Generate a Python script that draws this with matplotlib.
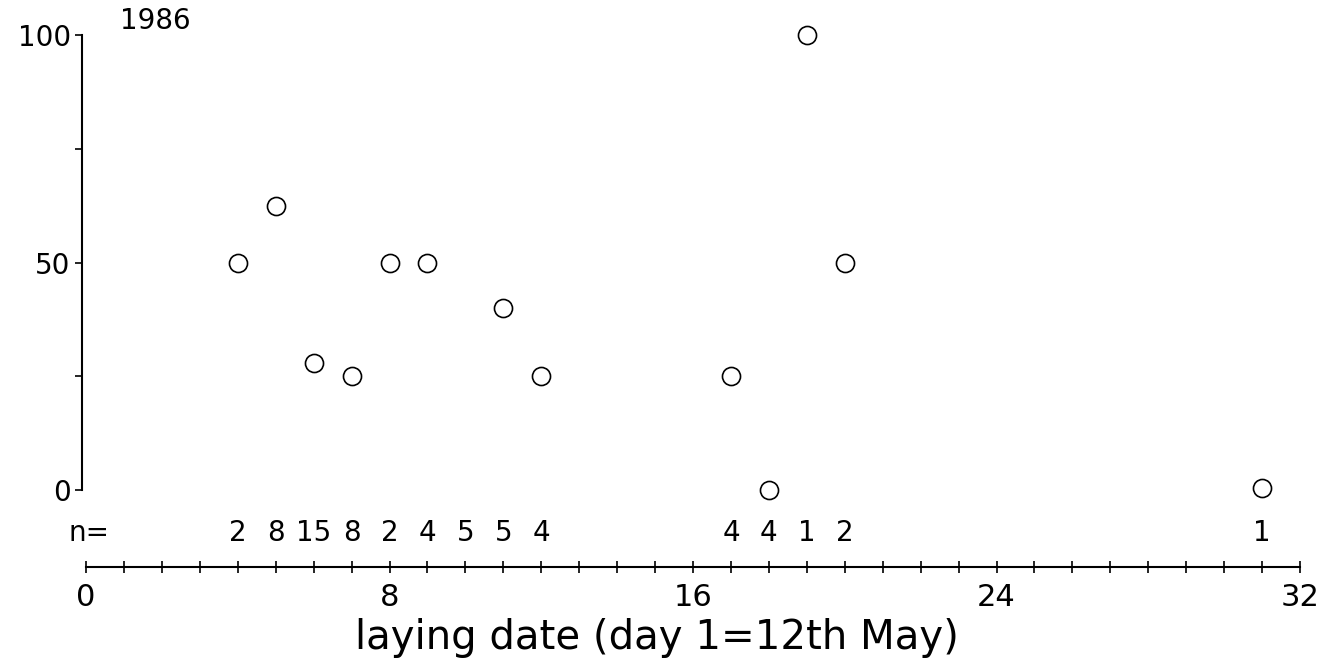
import numpy as np
import matplotlib.pyplot as plt

plt.rcParams['font.family'] = ['DejaVu Sans']

# percentage per laying day (1986)
days = [4, 5, 6, 7, 8, 9, 11, 12, 17, 18, 19, 20, 31]
pct = [50, 62.5, 28, 25, 50, 50, 40, 25, 25, 0, 100, 50, 0.5]

# sample sizes printed above the date axis
n_days = [4, 5, 6, 7, 8, 9, 10, 11, 12, 17, 18, 19, 20, 31]
n_vals = [2, 8, 15, 8, 2, 4, 5, 5, 4, 4, 4, 1, 2, 1]

fig = plt.figure(figsize=(13.26, 6.66), dpi=100)
ax = fig.add_axes([86/1326, 99/666, 1214/1326, 532/666])

ax.plot(days, pct, 'o', ms=13, mfc='white', mec='black', mew=1.2, clip_on=False)

ax.set_xlim(0, 32)
ax.set_ylim(-16.9, 100)

for s in ['top', 'right']:
    ax.spines[s].set_visible(False)
ax.spines['left'].set_bounds(0, 100)
ax.spines['left'].set_position(('outward', 3))
ax.spines['left'].set_linewidth(1.5)
ax.spines['bottom'].set_linewidth(1.5)

ax.set_yticks([0, 25, 50, 75, 100])
ax.set_yticklabels(['0', '', '50', '', '100'])
ax.tick_params(axis='y', direction='out', length=5, width=1.2, labelsize=20, pad=3)

ax.set_xticks(np.arange(0, 33, 1))
ax.set_xticklabels([str(d) if d % 8 == 0 else '' for d in range(33)])
ax.tick_params(axis='x', direction='inout', length=9, width=1.2, labelsize=22, pad=7)

for d, n in zip(n_days, n_vals):
    ax.text(d, -9.5, str(n), ha='center', va='center', fontsize=20)
ax.text(-0.45, -9.5, 'n=', ha='left', va='center', fontsize=20)

ax.text(0.9, 103, '1986', ha='left', va='center', fontsize=20, clip_on=False)

fig.text(657/1326, 1 - 638/666, 'laying date (day 1=12th May)',
         ha='center', va='center', fontsize=29)

fig.savefig('out.png', dpi=100)
